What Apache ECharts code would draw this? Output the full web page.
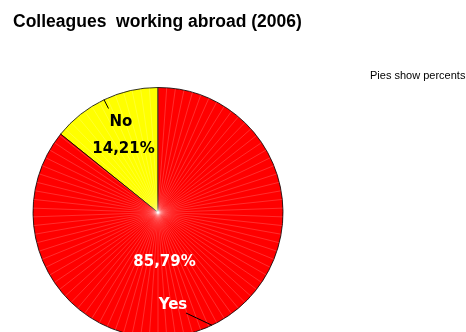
<!DOCTYPE html>
<html>
<head>
<meta charset="utf-8">
<script src="https://cdn.jsdelivr.net/npm/echarts@6/dist/echarts.min.js"></script>
<style>
  html, body { margin: 0; padding: 0; background: #fff; }
  #chart { width: 466px; height: 332px; }
</style>
</head>
<body>
<div id="chart"></div>
<script>
// Survey answers and their shares (percent)
const categories = ['No', 'Yes'];
const shares = [14.21, 85.79];
const sliceColors = ['#FFFF00', '#FF0000'];
const titleText = 'Colleagues  working abroad (2006)';
const noteText = 'Pies show percents';

// Pie geometry
const CENTER = [158, 212.5];
const RADIUS = 125;

// Where each label sits (label centres), and where the name leader lines end
const percentLabelPos = [[123.5, 149], [164.5, 262]];
const nameLabelPos = [[121, 122.5], [173, 305]];
const nameLineEnd = [[108.5, 108.5], [186, 313]];
const labelInk = ['#000', '#fff'];

const fmtPct = v => v.toFixed(2).replace('.', ',') + '%';

const pieData = categories.map((name, i) => ({
  name,
  value: shares[i],
  itemStyle: { color: sliceColors[i] }
}));
const ghostData = categories.map((name, i) => ({
  name,
  value: shares[i],
  label: { color: labelInk[i] }
}));

const basePie = {
  type: 'pie',
  center: CENTER,
  radius: RADIUS,
  startAngle: 90,
  clockwise: false,
  avoidLabelOverlap: false,
  silent: true,
  animation: false
};

const chart = echarts.init(document.getElementById('chart'), null, { renderer: 'canvas' });

chart.setOption({
  backgroundColor: '#fff',
  animation: false,
  title: [
    {
      text: titleText,
      left: 13, top: 13, padding: 0,
      textStyle: { fontFamily: 'Liberation Sans', fontSize: 17.5, fontWeight: 'bold', color: '#000' }
    },
    {
      text: noteText,
      left: 370, top: 70, padding: 0,
      textStyle: { fontFamily: 'Liberation Sans', fontSize: 11, fontWeight: 'normal', color: '#000' }
    }
  ],
  // faint radial rays across the pie face
  polar: { center: CENTER, radius: RADIUS },
  angleAxis: {
    type: 'value', min: 0, max: 360, interval: 4, z: 3,
    axisLine: { show: false }, axisTick: { show: false }, axisLabel: { show: false },
    splitLine: { show: true, lineStyle: { color: 'rgba(255,255,255,0.3)', width: 0.6 } }
  },
  radiusAxis: { show: false, min: 0, max: 1 },
  series: [
    Object.assign({}, basePie, {
      z: 2,
      data: pieData,
      label: { show: false },
      labelLine: { show: false },
      itemStyle: { borderColor: '#000', borderWidth: 0.8 }
    }),
    Object.assign({}, basePie, {
      z: 4,
      data: ghostData,
      itemStyle: { color: 'rgba(0,0,0,0)', borderWidth: 0 },
      label: {
        show: true, position: 'inside',
        formatter: p => fmtPct(p.value),
        fontFamily: 'DejaVu Sans', fontWeight: 'bold', fontSize: 15
      },
      labelLine: { show: false },
      labelLayout: p => ({
        x: percentLabelPos[p.dataIndex][0], y: percentLabelPos[p.dataIndex][1],
        align: 'center', verticalAlign: 'middle'
      })
    }),
    Object.assign({}, basePie, {
      z: 4,
      data: ghostData,
      itemStyle: { color: 'rgba(0,0,0,0)', borderWidth: 0 },
      label: {
        show: true, position: 'outside',
        formatter: '{b}',
        fontFamily: 'DejaVu Sans', fontWeight: 'bold', fontSize: 15
      },
      labelLine: { show: true, length: 5, length2: 0, lineStyle: { color: '#000', width: 1 } },
      labelLayout: p => ({
        x: nameLabelPos[p.dataIndex][0], y: nameLabelPos[p.dataIndex][1],
        align: 'center', verticalAlign: 'middle',
        labelLinePoints: [p.labelLinePoints[0], nameLineEnd[p.dataIndex]]
      })
    })
  ]
});
</script>
</body>
</html>
